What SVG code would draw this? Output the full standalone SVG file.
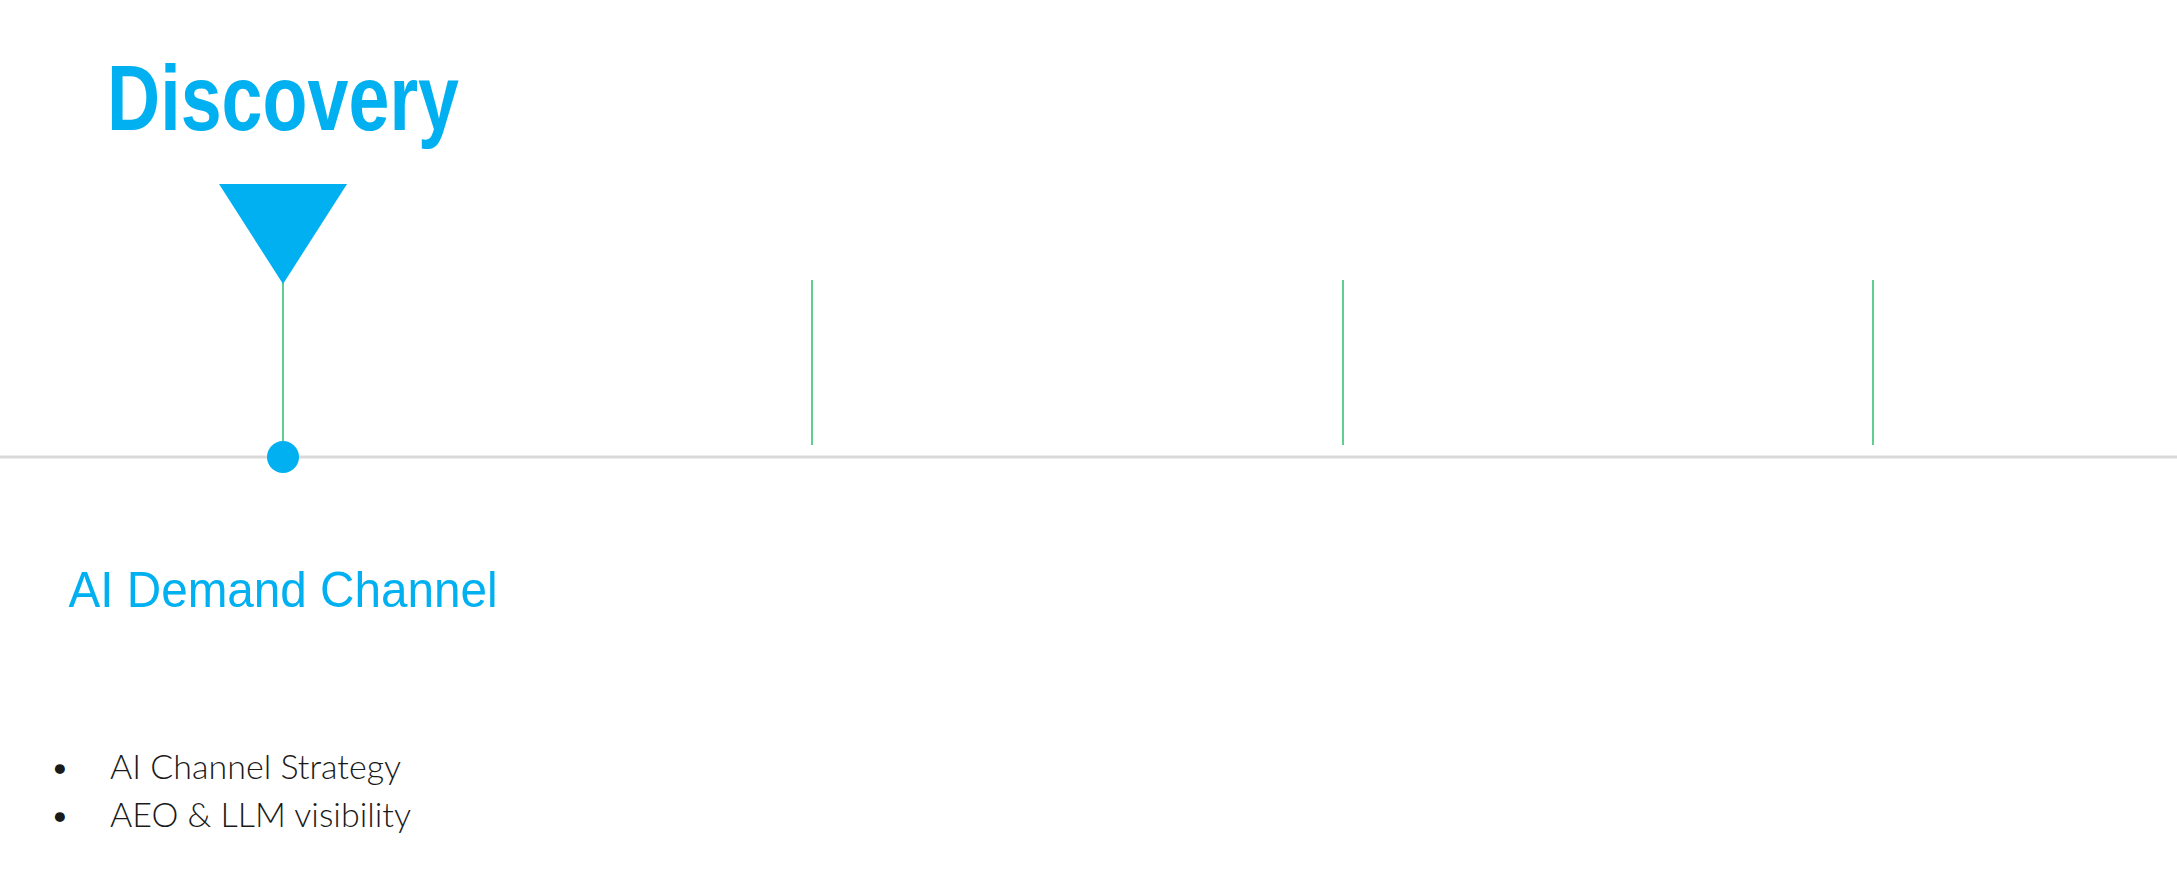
<svg xmlns="http://www.w3.org/2000/svg" width="2177" height="884" viewBox="0 0 2177 884">
<style>
.t{font-family:"Liberation Sans",Arial,sans-serif;font-weight:bold;font-size:92px;text-anchor:middle}
.s{font-family:"Liberation Sans",Arial,sans-serif;font-size:50px;text-anchor:middle}
.b{font-family:Lato,"Liberation Sans",sans-serif;font-weight:300;font-size:34px;fill:#1a1a1a}
.blue{fill:#00b0f0}.green{fill:#92d050}
.stem{stroke:#5ecf8c;stroke-width:2}
</style>
<rect width="2177" height="884" fill="#fff"/>
<g id="connectors">
<line x1="0" y1="457" x2="2177" y2="457" stroke="#d9d9d9" stroke-width="3"/>
<line class="stem" x1="283" y1="280" x2="283" y2="445"/>
<line class="stem" x1="812" y1="280" x2="812" y2="445"/>
<line class="stem" x1="1343" y1="280" x2="1343" y2="445"/>
<line class="stem" x1="1873" y1="280" x2="1873" y2="445"/>
</g>
<g id="discovery">
<text class="t blue" x="283" y="130" textLength="352" lengthAdjust="spacingAndGlyphs">Discovery</text>
<polygon class="blue" points="219,184 347,184 283,284"/>
<circle class="blue" cx="283" cy="457" r="16"/>
<text class="s blue" x="283" y="607" textLength="429" lengthAdjust="spacingAndGlyphs">AI Demand Channel</text>
<g class="b">
<text x="50" y="779">•</text><text x="110" y="779">AI Channel Strategy</text>
<text x="50" y="827">•</text><text x="110" y="827">AEO &amp; LLM visibility</text>
<text x="50" y="875" dy="-1e-9"></text>
</g>
<g class="b">
<text x="50" y="875"></text>
</g>
</g>
<g id="discovery-items2" class="b">
<text x="50" y="875"></text>
</g>
</svg>
